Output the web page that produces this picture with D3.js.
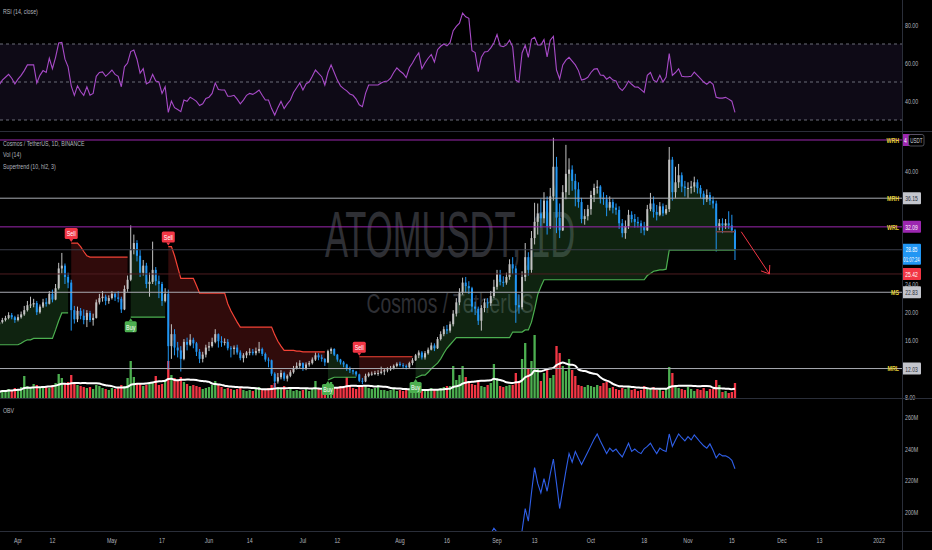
<!DOCTYPE html>
<html><head><meta charset="utf-8">
<script src="https://cdn.jsdelivr.net/npm/d3@7"></script>
<style>html,body{margin:0;padding:0;background:#000;overflow:hidden}svg{display:block}</style>
</head><body>
<svg id="chart" width="932" height="550"></svg>
<script>
// ---------------- DATA ----------------
const startDate = "2021-03-26";
const firstOpen = 18.3;
const closes = [
18.6,18.9,19.2,19.6,19.3,18.9,19.3,19.7,20.3,21.0,
21.1,21.3,20.0,20.8,21.4,21.2,22.6,21.8,23.4,26.2,
26.6,25.0,24.2,20.3,19.0,20.2,19.5,18.9,19.9,18.9,
19.2,21.4,22.0,22.2,21.6,22.0,22.6,22.1,21.9,20.4,
23.3,24.6,28.8,29.8,28.0,25.6,26.6,24.0,24.3,26.0,
24.4,24.0,21.6,22.6,15.2,16.9,15.0,14.6,13.4,15.8,
15.4,16.1,15.6,14.4,13.4,14.0,15.0,15.2,15.8,16.9,
15.9,15.7,15.8,14.9,14.8,15.0,14.3,13.5,13.9,14.3,
14.4,14.2,14.5,14.8,14.1,13.3,13.2,11.3,10.2,10.8,
11.4,10.6,11.0,11.5,12.0,12.4,12.8,12.1,12.6,12.8,
13.3,13.9,13.6,13.4,12.9,14.5,14.8,14.0,13.3,12.9,
12.6,12.0,11.8,11.6,11.2,10.3,10.2,11.0,11.3,11.3,
11.4,11.4,11.6,11.8,11.9,12.1,12.4,12.7,12.5,12.4,
12.2,12.8,13.2,13.9,14.3,13.6,14.2,14.7,15.3,14.9,
16.2,16.9,17.6,17.4,18.3,19.8,21.4,22.8,24.2,23.7,
23.4,20.8,20.5,18.8,20.6,21.4,21.3,22.3,23.6,25.4,
24.3,24.2,25.0,26.8,26.2,21.0,20.7,25.0,27.8,26.0,
30.5,32.8,34.0,33.3,35.8,32.2,36.4,40.6,33.4,31.6,
37.0,39.6,40.2,38.6,37.4,35.6,33.2,33.6,34.6,36.6,
37.6,37.8,36.2,36.0,34.8,35.6,34.8,34.5,32.6,31.2,
32.2,33.8,33.2,32.8,32.6,32.1,31.6,34.6,35.4,34.2,
33.8,35.0,34.0,34.6,41.6,37.0,38.4,39.4,37.8,37.6,
37.6,37.8,38.4,37.6,36.8,36.0,36.6,35.8,35.4,32.2,
32.6,32.3,32.6,32.3,31.6,28.85];
const highs = [
19.0,19.2,19.5,20.0,19.9,19.5,19.7,20.1,20.9,21.6,
22.2,21.9,21.6,21.1,21.9,22.0,23.0,23.2,24.0,27.0,
28.4,26.9,25.6,24.6,20.9,20.8,20.6,20.4,20.3,20.2,
19.8,21.8,22.6,23.0,22.5,22.4,23.0,22.8,23.0,22.2,
23.8,25.2,32.3,31.0,30.2,28.8,27.4,27.0,25.6,30.0,
26.4,25.2,24.3,23.4,23.2,18.3,17.6,15.8,15.2,16.2,
16.4,16.9,16.4,15.8,14.8,14.4,15.4,15.8,16.4,17.6,
17.0,16.6,16.3,16.2,15.2,15.3,15.4,14.6,14.2,14.5,
14.9,14.8,15.0,15.8,15.0,14.3,13.6,13.3,11.5,11.4,
11.8,11.6,11.2,11.8,12.4,12.9,13.2,12.9,12.9,13.1,
13.6,14.3,14.2,14.0,13.5,14.7,15.0,14.9,14.1,13.4,
13.1,12.7,12.3,11.9,11.7,11.3,10.7,11.3,11.5,11.6,
11.7,11.8,12.3,12.0,12.2,12.4,12.6,12.9,13.0,12.8,
12.6,13.0,13.5,14.1,14.6,14.5,14.5,15.0,15.7,15.6,
16.5,17.3,18.0,18.2,18.7,20.3,22.0,23.4,24.9,25.0,
24.4,23.6,21.5,20.8,21.0,21.9,22.0,23.0,24.6,26.0,
26.0,25.1,25.6,27.5,27.8,26.6,22.5,25.8,29.8,28.5,
31.5,35.5,35.4,36.0,37.0,36.4,37.6,44.7,42.0,35.4,
38.0,43.7,41.8,40.8,39.6,38.4,36.2,34.6,35.2,37.2,
38.2,38.7,38.0,37.0,36.6,36.4,36.0,35.4,35.0,33.2,
33.0,34.5,34.3,33.9,33.5,33.0,32.8,35.2,36.9,36.4,
35.2,35.6,35.4,35.2,43.4,42.0,40.6,41.0,39.8,38.6,
38.4,38.6,39.2,38.8,38.0,37.2,37.4,37.0,36.4,35.8,
33.2,33.3,33.2,34.3,33.8,31.8];
const lows = [
18.0,18.4,18.7,19.0,19.0,18.5,18.7,19.1,19.5,20.1,
20.6,20.7,19.6,19.8,20.6,20.8,21.1,21.4,21.7,23.2,
25.5,24.0,23.4,17.4,18.4,18.6,19.0,18.3,17.9,18.6,
18.1,19.1,21.1,21.5,21.0,21.2,21.8,21.6,21.4,19.9,
20.3,22.9,24.4,28.2,27.2,25.0,25.2,23.4,22.2,24.0,
23.8,22.0,20.9,21.4,11.9,13.4,13.9,13.6,11.6,13.2,
14.6,15.2,14.9,13.8,12.8,12.9,13.6,14.5,15.0,15.6,
15.0,15.1,15.3,14.6,13.6,14.0,14.0,13.2,12.9,13.5,
13.9,13.9,13.9,14.2,13.8,13.0,12.2,11.0,9.3,9.9,
10.5,10.3,10.2,10.8,11.3,11.9,12.1,11.7,11.8,12.3,
12.6,13.1,13.2,13.0,12.4,12.8,14.1,13.8,13.0,12.6,
12.2,11.7,11.4,11.2,10.9,10.1,9.8,10.1,10.8,11.0,
11.1,11.0,11.2,11.1,11.5,11.7,11.9,12.2,12.3,12.1,
11.9,12.1,12.5,13.1,13.5,13.3,13.3,14.0,14.6,14.5,
14.8,16.0,16.6,16.9,17.1,18.0,19.4,21.0,22.5,22.8,
22.6,20.0,19.6,18.2,17.4,20.0,20.6,20.9,22.0,23.2,
23.8,23.6,23.9,24.6,25.4,18.5,19.8,20.4,24.4,25.2,
25.6,29.6,31.0,32.0,32.6,31.0,31.8,35.8,31.2,30.5,
31.5,36.0,36.6,37.2,35.0,34.8,32.6,32.4,33.0,33.8,
35.6,36.8,35.4,35.2,33.6,34.4,34.0,33.8,31.8,30.6,
30.4,31.8,32.7,32.0,32.0,31.2,30.9,31.5,34.3,33.4,
33.0,33.6,33.6,33.8,34.2,35.8,36.2,37.6,37.0,36.4,
36.2,36.8,37.0,36.8,36.2,35.2,35.6,35.2,34.7,28.6,
31.6,31.2,31.8,31.8,31.3,27.4];
const volumes = [
6,8,7,9,8,10,9,11,22,12,
11,14,13,10,11,12,10,13,15,24,
20,14,16,23,15,13,12,11,10,11,
9,13,12,10,9,8,10,9,11,13,
12,20,37,21,15,14,12,13,14,16,
22,13,14,18,37,23,20,17,21,16,
14,12,13,12,11,9,10,11,13,17,
14,11,9,10,9,8,9,10,8,7,
8,7,9,11,8,9,10,13,15,11,
10,12,8,9,7,8,7,8,9,7,
10,17,9,8,10,15,16,11,10,12,
11,21,12,10,9,13,11,12,10,9,
10,13,8,8,7,8,9,7,8,7,
9,8,9,10,7,8,7,9,10,8,
9,10,11,12,12,32,18,23,32,21,
16,14,13,16,12,11,13,15,34,20,
12,11,12,13,13,25,17,39,55,30,
37,63,30,17,25,28,20,23,52,45,
32,27,39,28,22,13,12,11,13,12,
11,13,12,15,16,10,11,9,8,10,
9,11,8,9,7,8,12,10,9,11,
8,9,7,10,31,25,13,10,9,8,
11,9,7,9,8,10,7,9,9,18,
13,6,7,5,6,15];
const rsiValues = [
48.5,51,52.5,54,52,49,51.5,53.5,56,59,
59,59,49.5,53.5,56,55,62.5,57,63,70.5,
70.8,62,58,48,43,48,45,43,47.5,43,
44,53,55,55.3,53,54.5,56.3,54,53,47.5,
58,60,66,66.8,62,54.7,57,49,50,54,
50.5,50,44,47.5,34,40,36.5,35.5,34.4,40.5,
39.8,42,41,39.8,37.6,38.5,41.3,42,44,49.5,
46,45.8,45.8,42.5,42.5,43,41,38.5,40.5,43,
44,43.5,44.5,45.8,43,40.5,40.5,36,32.6,36.5,
39.8,36,38.5,40.5,44.5,47,49.5,45.8,49,50,
53,56.3,54.5,52.8,48.4,55,59,55,51,48,
46.5,45.3,43.7,43,41,38,37,44,48.4,48.4,
48.4,48.4,49.5,50.3,50.5,52,55,57.4,55.8,54.5,
52.3,57.5,60,63,65.3,57,60,62.5,64.5,60.5,
67,68.8,70,69,70.7,77,79.3,81,86.3,84.3,
83.5,66.5,65.5,55.5,63,65.8,66,68,70.5,75,
69,68.6,69.5,72,68.5,51,50,65.3,69.3,63,
72.5,73.5,69.5,69.5,72.3,63.2,72,74,56.3,51.6,
59,61.5,63,61,59,56,51,51.5,52.5,55,
56.8,57,53.7,53.5,51.5,52.6,51,50.5,47,45.5,
47.5,50.5,48.8,47.4,47.3,46,44.5,53.5,55,51,
50,53.5,50,52.6,65,53.5,55,57,53,52.8,
52.8,53,55.2,53.5,51.8,50,48.8,50.2,48.8,42,
41.5,41.5,41.9,41,39.9,34];
const stValues = [
15.4,15.4,15.4,15.4,15.4,15.4,15.4,15.6,15.9,16.1,
16.1,16.3,16.3,16.3,16.3,16.3,16.3,16.3,17.5,18.8,
19.9,19.9,19.9,29.8,29.8,29.8,29.3,28.6,28.0,27.8,
27.8,27.8,27.8,27.8,27.8,27.8,27.8,27.8,27.8,27.8,
27.8,27.8,19.3,19.3,19.3,19.3,19.3,19.3,19.3,19.3,
19.3,19.3,19.3,19.3,29.3,29.3,28.0,26.4,24.8,24.8,
24.8,24.8,24.8,23.8,22.7,22.7,22.7,22.7,22.7,22.7,
22.7,22.7,22.7,21.2,20.2,19.4,18.6,17.9,17.9,17.9,
17.9,17.9,17.9,17.9,17.9,17.9,17.9,17.9,16.8,15.9,
15.2,14.6,14.6,14.6,14.6,14.5,14.5,14.4,14.4,14.4,
14.4,14.4,14.4,14.4,14.4,10.4,10.6,10.8,10.8,10.8,
10.8,10.8,10.8,10.8,10.8,13.7,13.7,13.7,13.7,13.7,
13.7,13.7,13.7,13.7,13.7,13.7,13.7,13.7,13.7,13.7,
13.7,13.7,13.7,10.7,10.9,11.1,11.1,11.5,12.0,12.4,
12.8,13.4,14.2,14.9,15.4,15.9,16.4,16.4,16.4,16.4,
16.4,16.4,16.4,16.4,16.4,16.4,16.4,16.4,16.4,16.4,
16.4,16.4,16.4,16.4,17.2,17.2,17.2,17.2,17.5,17.5,
18.6,20.4,22.5,23.6,24.6,24.6,24.6,24.6,24.6,24.6,
24.6,24.6,24.6,24.6,24.6,24.6,24.6,24.6,24.6,24.6,
24.6,24.6,24.6,24.6,24.6,24.6,24.6,24.6,24.6,24.6,
24.6,24.6,24.6,24.6,24.6,24.6,24.6,25.2,25.5,25.8,
25.9,26.0,26.0,26.1,28.8,28.8,28.8,28.8,28.8,28.8,
28.8,28.8,28.8,28.8,28.8,28.8,28.8,28.8,28.8,28.8,
28.8,28.8,28.8,28.8,28.8,28.8];
// [first index, last index, direction] : 1 = up (Buy), -1 = down (Sell)
const trendSegments = [[0,22,1],[23,41,-1],[42,53,1],[54,104,-1],[105,114,1],[115,132,-1],[133,235,1]];
const obvStartIndex = 156;
const obvValues = [
183,186,189.5,187,184,183,181,185,181,174,
179,188,202,194,212,228,218,212,221,213,
224,233.5,218,202,214,226,237,231.5,238.3,234,
230,234,238,242,246,249.4,245,241,237,240.4,
238.3,239.8,237,234.8,239,243.5,238.3,239.8,238,236.9,
240,241.5,243.5,240,236.9,240.4,239,238.3,249.4,241.5,
245.5,249.4,247,245,247.7,245.6,248.8,246.5,244,241.9,
240.4,243.1,239,234.2,236.9,235.5,235.6,234.5,232.7,227.3];
const levelNames = ["WRH","MRH","WRL","MS","MRL"];
const levelValues = [44.39,36.15,32.09,22.83,12.03];
const levelKinds = ["weekly","monthly","weekly","monthly","monthly"];
const lastPrice = 28.85;
const countdown = "01:07:24";
const targetPrice = 25.42;
const arrowFrom = ["2021-11-18", 31.4];
const arrowTo = ["2021-11-27", 25.42];
const markSegment = ["2021-11-10", "2021-11-16", 31.4];
const xTickDates = ["2021-04-01","2021-04-12","2021-05-01","2021-05-17","2021-06-01","2021-06-14","2021-07-01","2021-07-12","2021-08-01","2021-08-16","2021-09-01","2021-09-13","2021-10-01","2021-10-18","2021-11-01","2021-11-15","2021-12-01","2021-12-13","2022-01-01"];
const xTickLabels = ["Apr","12","May","17","Jun","14","Jul","12","Aug","16","Sep","13","Oct","18","Nov","15","Dec","13","2022"];
const rsiTicks = [80,60,40];
const rsiBands = [70,50,30];
const priceTicks = [40,24,20,16,8];
const obvTicks = [260,240,220,200];
const volumeMaLength = 14;

// ---------------- CHART ----------------
const svg = d3.select("#chart");
const FONT = "'Liberation Sans', Arial, sans-serif";
const AX = 902;
const P = {rsiTop:0, rsiBot:131, mainTop:132, mainBot:398, obvTop:399, obvBot:531};
const parse = d3.utcParse("%Y-%m-%d");
const day0 = parse(startDate);
const dateAt = i => d3.utcDay.offset(day0, i);

const x = d3.scaleUtc().domain([parse("2021-04-01"), parse("2022-01-01")]).range([18, 879]);
const yP = d3.scaleLinear().domain([8, 40]).range([397, 171]);
const yR = d3.scaleLinear().domain([40, 80]).range([101, 25]);
const yO = d3.scaleLinear().domain([200, 260]).range([511.7, 417.3]);
const yV = d3.scaleLinear().domain([0, 64]).range([398, 334]);

const candles = closes.map((c, i) => {
  const o = i === 0 ? firstOpen : closes[i - 1];
  return {i, date: dateAt(i), o, c, h: Math.max(highs[i], o, c), l: Math.min(lows[i], o, c),
          v: volumes[i], rsi: rsiValues[i], st: stValues[i]};
});
const volMa = candles.map((d, i) => d3.mean(volumes.slice(Math.max(0, i - volumeMaLength + 1), i + 1)));

function T(parent, px, py, s, o = {}) {
  const t = parent.append("text")
    .attr("transform", `translate(${px},${py}) scale(${o.sx ?? 0.66},1)`)
    .attr("font-family", FONT)
    .attr("font-size", o.size ?? 8)
    .attr("fill", o.fill ?? "#b2b5be")
    .attr("text-anchor", o.anchor ?? "start")
    .attr("dominant-baseline", o.baseline ?? "central")
    .text(s);
  if (o.weight) t.attr("font-weight", o.weight);
  return t;
}

svg.append("rect").attr("width", 932).attr("height", 550).attr("fill", "#000");
const defs = svg.append("defs");
function clip(id, y0, y1) {
  defs.append("clipPath").attr("id", id).append("rect").attr("x", 0).attr("y", y0).attr("width", AX).attr("height", y1 - y0);
  return `url(#${id})`;
}

// ---- RSI panel ----
const gR = svg.append("g").attr("clip-path", clip("cr", P.rsiTop, P.rsiBot));
gR.append("rect").attr("x", 0).attr("width", AX).attr("y", yR(70)).attr("height", yR(30) - yR(70)).attr("fill", "#0e0a16");
rsiBands.forEach(b => gR.append("line").attr("x1", 0).attr("x2", AX).attr("y1", yR(b)).attr("y2", yR(b))
  .attr("stroke", "#6a6d78").attr("stroke-dasharray", "3,3").attr("stroke-width", 1));
gR.append("path").datum(candles).attr("fill", "none").attr("stroke", "#a84bc8").attr("stroke-width", 1.1)
  .attr("d", d3.line().x(d => x(d.date)).y(d => yR(d.rsi)));
T(svg, 3, 11, "RSI (14, close)", {size: 8});
rsiTicks.forEach(t => T(svg, 905, yR(t), d3.format(".2f")(t)));

// ---- Main panel ----
const gM = svg.append("g").attr("clip-path", clip("cm", P.mainTop, P.mainBot));
T(gM, 450, 257, "ATOMUSDT, 1D", {size: 64, sx: 0.54, anchor: "middle", baseline: "alphabetic", fill: "#2e2f34"});
T(gM, 450, 313, "Cosmos / TetherUS", {size: 28, sx: 0.69, anchor: "middle", baseline: "alphabetic", fill: "#2e2f34"});

// supertrend fills (semi-transparent, watermark shows through)
trendSegments.forEach(([a, b, dir]) => {
  const seg = candles.slice(a, b + 1);
  gM.append("path").datum(seg)
    .attr("fill", dir > 0 ? "rgba(76,175,80,0.2)" : "rgba(242,54,54,0.2)")
    .attr("d", d3.area().x(d => x(d.date)).y0(d => yP((d.o + d.c) / 2)).y1(d => yP(d.st)));
});

// volume
gM.append("g").selectAll("rect").data(candles).join("rect")
  .attr("x", d => x(d.date) - 1.15).attr("width", 2.3)
  .attr("y", d => yV(d.v)).attr("height", d => yV(0) - yV(d.v))
  .attr("fill", d => d.c >= d.o ? "#4caf50" : "#f23645");
gM.append("path").datum(candles).attr("fill", "none").attr("stroke", "#ffffff").attr("stroke-width", 2)
  .attr("d", d3.line().curve(d3.curveMonotoneX).x(d => x(d.date)).y(d => yV(volMa[d.i])));

// candles
const gC = gM.append("g");
gC.selectAll("line").data(candles).join("line")
  .attr("x1", d => x(d.date)).attr("x2", d => x(d.date))
  .attr("y1", d => yP(d.h)).attr("y2", d => yP(d.l))
  .attr("stroke", d => d.c >= d.o ? "#c2c2c2" : "#2196f3").attr("stroke-width", 1);
gC.selectAll("rect").data(candles).join("rect")
  .attr("x", d => x(d.date) - 1).attr("width", 2)
  .attr("y", d => yP(Math.max(d.o, d.c)))
  .attr("height", d => Math.max(1, Math.abs(yP(d.o) - yP(d.c))))
  .attr("fill", d => d.c >= d.o ? "#c2c2c2" : "#2196f3");

// supertrend lines
trendSegments.forEach(([a, b, dir]) => {
  const seg = candles.slice(a, b + 1);
  gM.append("path").datum(seg).attr("fill", "none")
    .attr("stroke", dir > 0 ? "#4caf50" : "#f44336").attr("stroke-width", 1.2)
    .attr("d", d3.line().x(d => x(d.date)).y(d => yP(d.st)));
});

// horizontal levels
const levelColor = k => k === "weekly" ? "#9c27b0" : "#a9abb2";
levelValues.forEach((v, k) => gM.append("line").attr("x1", 0).attr("x2", AX).attr("y1", yP(v)).attr("y2", yP(v))
  .attr("stroke", levelColor(levelKinds[k])).attr("stroke-width", 1));
gM.append("line").attr("x1", 0).attr("x2", AX).attr("y1", yP(lastPrice)).attr("y2", yP(lastPrice)).attr("stroke", "#3a3d48");
gM.append("line").attr("x1", 0).attr("x2", AX).attr("y1", yP(targetPrice)).attr("y2", yP(targetPrice)).attr("stroke", "#4e1d21");

// drawing: mark segment and arrow
gM.append("line").attr("x1", x(parse(markSegment[0]))).attr("x2", x(parse(markSegment[1])))
  .attr("y1", yP(markSegment[2])).attr("y2", yP(markSegment[2])).attr("stroke", "#7a4444").attr("stroke-width", 1.5);
{
  const ax1 = x(parse(arrowFrom[0])), ay1 = yP(arrowFrom[1]);
  const ax2 = x(parse(arrowTo[0])), ay2 = yP(arrowTo[1]);
  const ang = Math.atan2(ay2 - ay1, ax2 - ax1), hl = 9, ha = Math.PI / 5;
  const p = d3.path();
  p.moveTo(ax1, ay1); p.lineTo(ax2, ay2);
  p.moveTo(ax2 - hl * Math.cos(ang - ha), ay2 - hl * Math.sin(ang - ha)); p.lineTo(ax2, ay2);
  p.lineTo(ax2 - hl * Math.cos(ang + ha), ay2 - hl * Math.sin(ang + ha));
  gM.append("path").attr("d", p.toString()).attr("fill", "none").attr("stroke", "#f23645").attr("stroke-width", 1);
}

// Buy / Sell labels
trendSegments.forEach(([a, b, dir], k) => {
  if (k === 0) return;
  const d = candles[a], cx = x(d.date), ly = yP(d.st);
  const col = dir > 0 ? "#4caf50" : "#f23645";
  if (dir < 0) {
    const bot = ly - 4;
    gM.append("rect").attr("x", cx - 6.5).attr("y", bot - 11).attr("width", 13).attr("height", 11).attr("rx", 1.5).attr("fill", col);
    gM.append("path").attr("d", `M${cx - 2},${bot}L${cx + 2},${bot}L${cx},${bot + 3}Z`).attr("fill", col);
    T(gM, cx, bot - 5.5, "Sell", {size: 7.5, sx: 0.72, anchor: "middle", fill: "#fff"});
  } else {
    const top = ly + 4;
    gM.append("rect").attr("x", cx - 6).attr("y", top).attr("width", 12).attr("height", 11).attr("rx", 1.5).attr("fill", col);
    gM.append("path").attr("d", `M${cx - 2},${top}L${cx + 2},${top}L${cx},${top - 3}Z`).attr("fill", col);
    T(gM, cx, top + 5.5, "Buy", {size: 7.5, sx: 0.72, anchor: "middle", fill: "#fff"});
  }
});

// level names (yellow)
levelValues.forEach((v, k) => T(svg, 899, yP(v), levelNames[k], {size: 8, sx: 0.66, anchor: "end", fill: "#e6d23a", weight: "bold"}));

// legends
T(svg, 3, 143.5, "Cosmos / TetherUS, 1D, BINANCE");
T(svg, 3, 154.5, "Vol (14)");
T(svg, 3, 166, "Supertrend (10, hl2, 3)");

// price axis labels (those not hidden under badges)
priceTicks.forEach(t => T(svg, 905, yP(t), d3.format(".2f")(t)));

// badges
function badgeRect(v, bg, h = 12) {
  return svg.append("rect").attr("x", AX).attr("y", yP(v) - 6).attr("width", 19).attr("height", h).attr("fill", bg).attr("rx", 1);
}
levelValues.forEach((v, k) => {
  const weekly = levelKinds[k] === "weekly";
  badgeRect(v, weekly ? "#9c27b0" : "#c3c5cc");
  const label = d3.format(".2f")(v);
  // top badge is mostly covered by the currency box: only its first digit shows
  if (k === 0) T(svg, AX + 2, yP(v), label.slice(0, 1), {fill: "#fff", sx: 0.62});
  else T(svg, AX + 9.5, yP(v), label, {fill: weekly ? "#fff" : "#2a2e39", anchor: "middle", sx: 0.62});
});
badgeRect(lastPrice, "#2196f3", 21);
T(svg, AX + 9.5, yP(lastPrice) - 0.5, d3.format(".2f")(lastPrice), {fill: "#fff", anchor: "middle", sx: 0.62, size: 7.5});
T(svg, AX + 9.5, yP(lastPrice) + 9.5, countdown, {fill: "#fff", anchor: "middle", sx: 0.56, size: 7.5});
badgeRect(targetPrice, "#f23645");
T(svg, AX + 9.5, yP(targetPrice), d3.format(".2f")(targetPrice), {fill: "#fff", anchor: "middle", sx: 0.62});
{
  const y = yP(levelValues[0]);
  svg.append("rect").attr("x", 908.5).attr("y", y - 5.5).attr("width", 15.5).attr("height", 11.5).attr("rx", 2)
    .attr("fill", "#000").attr("stroke", "#5d606b").attr("stroke-width", 0.8);
  T(svg, 916.3, y + 0.3, "USDT", {size: 7.5, sx: 0.6, anchor: "middle", fill: "#d1d4dc"});
}

// ---- OBV panel ----
const gO = svg.append("g").attr("clip-path", clip("co", P.obvTop, P.obvBot));
gO.append("path").datum(obvValues).attr("fill", "none").attr("stroke", "#2f5fe8").attr("stroke-width", 1.1)
  .attr("d", d3.line().x((v, k) => x(dateAt(obvStartIndex + k))).y(v => yO(v)));
T(svg, 3, 410, "OBV");
obvTicks.forEach(t => T(svg, 905, yO(t), t + "M"));

// separators
[[0, P.rsiBot + 0.5, 932, P.rsiBot + 0.5], [0, P.mainBot + 0.5, 932, P.mainBot + 0.5], [0, P.obvBot + 0.5, 932, P.obvBot + 0.5], [AX + 0.5, 0, AX + 0.5, 550]]
  .forEach(([a, b, c, d]) => svg.append("line").attr("x1", a).attr("y1", b).attr("x2", c).attr("y2", d).attr("stroke", "#2a2e39"));

// time axis
xTickDates.forEach((d, k) => T(svg, x(parse(d)), 540.5, xTickLabels[k], {anchor: "middle"}));
</script>
</body></html>
